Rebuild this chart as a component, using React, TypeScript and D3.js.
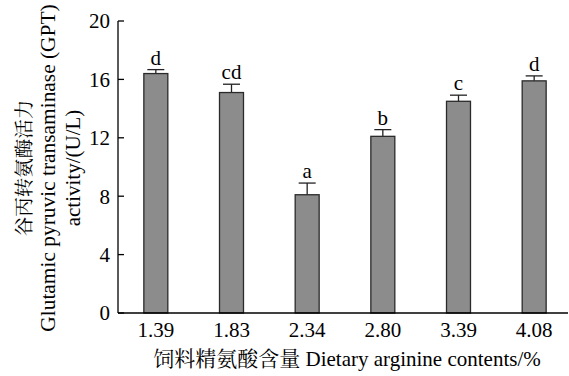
import React from "react";
import * as d3 from "d3";

const categories = ["1.39", "1.83", "2.34", "2.80", "3.39", "4.08"];
const values = [16.4, 15.1, 8.1, 12.1, 14.5, 15.9];
const errors = [0.27, 0.57, 0.8, 0.46, 0.42, 0.34];
const letters = ["d", "cd", "a", "b", "c", "d"];
const yTicks = [0, 4, 8, 12, 16, 20];

const W = 569;
const H = 376;
const FONT = "'Liberation Serif', 'Times New Roman', 'Noto Serif CJK SC', 'Noto Sans CJK SC', serif";

export default function App() {
  const x = d3.scaleBand<string>().domain(categories).range([118, 572]).paddingInner(0.683).paddingOuter(0.3415);
  const y = d3.scaleLinear().domain([0, 20]).range([313, 21]);
  const bw = x.bandwidth();
  return (
    <svg width={W} height={H} style={{ position: "absolute", left: 0, top: 0, background: "#fff" }} fontFamily={FONT}>
      {categories.map((c, i) => {
        const cx = (x(c) as number) + bw / 2;
        const top = y(values[i]);
        const et = y(values[i] + errors[i]);
        return (
          <g key={c}>
            <line x1={cx} x2={cx} y1={top} y2={et} stroke="#222" strokeWidth={1.3} />
            <line x1={cx - 8.5} x2={cx + 8.5} y1={et} y2={et} stroke="#222" strokeWidth={1.3} />
            <rect x={x(c)} y={top} width={bw} height={y(0) - top} fill="#8c8c8c" stroke="#2a2a2a" strokeWidth={1.3} />
            <text x={cx} y={et - 5} textAnchor="middle" fontSize={21} fill="#000">{letters[i]}</text>
            <text x={cx} y={337} textAnchor="middle" fontSize={21} fill="#000">{c}</text>
          </g>
        );
      })}
      <line x1={118} x2={568} y1={313} y2={313} stroke="#000" strokeWidth={1.3} />
      <line x1={118} x2={118} y1={313} y2={21} stroke="#000" strokeWidth={1.3} />
      {yTicks.map((t) => (
        <g key={t}>
          <line x1={118} x2={124} y1={y(t)} y2={y(t)} stroke="#000" strokeWidth={1.3} />
          <text x={110} y={y(t)} dy="0.35em" textAnchor="end" fontSize={21} fill="#000">{t}</text>
        </g>
      ))}
      <g transform="translate(0,168) rotate(-90)">
        <text x={0} y={31} textAnchor="middle" fontSize={19.5} fill="#000">谷丙转氨酶活力</text>
        <text x={0} y={55} textAnchor="middle" fontSize={21.4} fill="#000">Glutamic pyruvic transaminase (GPT)</text>
        <text x={0} y={80} textAnchor="middle" fontSize={21} fill="#000">activity/(U/L)</text>
      </g>
      <text x={347} y={366} textAnchor="middle" fontSize={21} fill="#000">饲料精氨酸含量 Dietary arginine contents/%</text>
    </svg>
  );
}
